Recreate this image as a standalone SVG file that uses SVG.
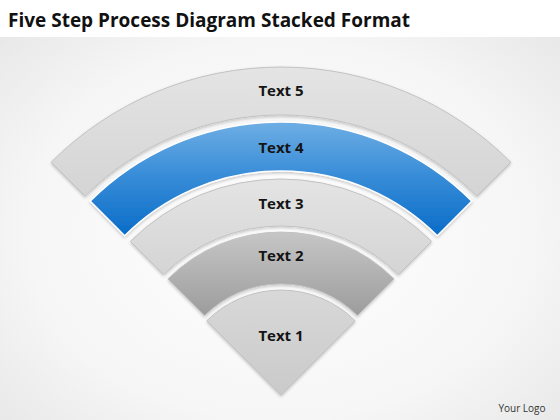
<svg xmlns="http://www.w3.org/2000/svg" width="560" height="420" viewBox="0 0 560 420">
  <defs>
    <radialGradient id="bg" cx="0.5" cy="0.55" r="0.75">
      <stop offset="0" stop-color="#ffffff"/>
      <stop offset="0.6" stop-color="#f6f6f6"/>
      <stop offset="1" stop-color="#e4e4e4"/>
    </radialGradient>
    <linearGradient id="gGray" x1="0" y1="0" x2="0" y2="1">
      <stop offset="0" stop-color="#e4e4e4"/>
      <stop offset="1" stop-color="#d4d4d4"/>
    </linearGradient>
    <linearGradient id="gBlue" x1="0" y1="0" x2="0" y2="1">
      <stop offset="0" stop-color="#6eaee4"/>
      <stop offset="0.45" stop-color="#3a8ed8"/>
      <stop offset="1" stop-color="#0a6cc8"/>
    </linearGradient>
    <linearGradient id="gDark" x1="0" y1="0" x2="0" y2="1">
      <stop offset="0" stop-color="#c6c6c6"/>
      <stop offset="1" stop-color="#9c9c9c"/>
    </linearGradient>
    <linearGradient id="gWedge" x1="0" y1="0" x2="0" y2="1">
      <stop offset="0" stop-color="#d8d8d8"/>
      <stop offset="1" stop-color="#cacaca"/>
    </linearGradient>
    <filter id="sh" x="-10%" y="-10%" width="120%" height="130%">
      <feDropShadow dx="0" dy="1.5" stdDeviation="1.5" flood-color="#000" flood-opacity="0.22"/>
    </filter>
    <style>
      .band { stroke: #c2c2c2; stroke-width: 1; filter: url(#sh); }
      .blue { stroke: #ffffff; stroke-width: 1.5; }
      .lbl { font-family: "Open Sans", "Liberation Sans", sans-serif; font-weight: bold; font-size: 15px; fill: #141414; text-anchor: middle; }
    </style>
  </defs>

  <rect x="0" y="0" width="560" height="420" fill="url(#bg)"/>
  <rect x="0" y="0" width="560" height="37" fill="#ffffff"/>

  <text x="8" y="27" font-family="Open Sans, Liberation Sans, sans-serif" font-weight="bold" font-size="20" fill="#111" textLength="402" lengthAdjust="spacingAndGlyphs">Five Step Process Diagram Stacked Format</text>

  <g id="step5">
    <path class="band" fill="url(#gGray)" d="M51.2 162.2 A325 325 0 0 1 510.8 162.2 L476.9 196.1 A277 277 0 0 0 85.1 196.1 Z"/>
    <text class="lbl" x="281" y="96">Text 5</text>
  </g>
  <g id="step4">
    <path class="band blue" fill="url(#gBlue)" d="M90.1 201.1 A270 270 0 0 1 471.9 201.1 L437.3 235.7 A221 221 0 0 0 124.7 235.7 Z"/>
    <text class="lbl" x="281" y="153">Text 4</text>
  </g>
  <g id="step3">
    <path class="band" fill="url(#gGray)" d="M130.4 241.4 A213 213 0 0 1 431.6 241.4 L398.4 274.6 A166 166 0 0 0 163.6 274.6 Z"/>
    <text class="lbl" x="281" y="209">Text 3</text>
  </g>
  <g id="step2">
    <path class="band" fill="url(#gDark)" d="M167.9 278.9 A160 160 0 0 1 394.1 278.9 L357.4 315.6 A108 108 0 0 0 204.6 315.6 Z"/>
    <text class="lbl" x="281" y="261">Text 2</text>
  </g>
  <g id="step1">
    <path class="band" fill="url(#gWedge)" d="M206.8 320.8 A105 105 0 0 1 355.2 320.8 L281 395 Z"/>
    <text class="lbl" x="281" y="341">Text 1</text>
  </g>

  <text x="522" y="412" font-family="Open Sans, Liberation Sans, sans-serif" font-size="10" fill="#333" text-anchor="middle">Your Logo</text>
</svg>
